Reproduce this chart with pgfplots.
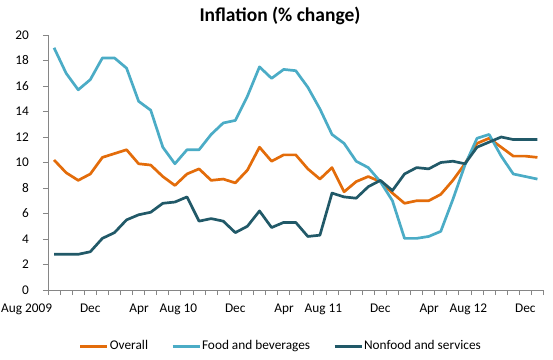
\documentclass[border=0pt]{standalone}
\usepackage{fontspec}
\setmainfont{Carlito}
\usepackage{pgfplots}
\pgfplotsset{compat=1.18}
\definecolor{cOverall}{HTML}{E36C0A}
\definecolor{cFood}{HTML}{4BACC6}
\definecolor{cNon}{HTML}{215968}
\definecolor{axgray}{HTML}{868686}
\begin{document}
\fontsize{13.3}{16}\selectfont
\begin{tikzpicture}
\useasboundingbox (0,0) rectangle (553pt,359pt);
\node[anchor=base, font=\bfseries\fontsize{19.5}{22}\selectfont] at (280pt,337pt) {Inflation (\% change)};
\begin{axis}[
  at={(48pt,69pt)}, anchor=south west,
  scale only axis, width=495.5pt, height=255pt,
  xmin=-0.5, xmax=40.5, ymin=0, ymax=20,
  axis x line=bottom, axis y line=left,
  axis line style={draw=axgray, line width=0.9pt, -},
  ytick={0,2,...,20},
  xtick={-0.5,0.5,...,40.5},
  xticklabels={},
  extra x ticks={-0.145,3.855,7.855,11.855,15.855,19.855,23.855,27.855,31.855,35.855,39.855},
  extra x tick labels={Aug 2009,Dec,Apr,Aug 10,Dec,Apr,Aug 11,Dec,Apr,Aug 12,Dec},
  extra x tick style={major tick length=0pt, tick style={draw=none},
    xticklabel style={anchor=north east, inner sep=0pt, yshift=-14pt}},
  xtick align=outside, ytick align=outside,
  major tick length=5pt,
  every tick/.style={draw=axgray, line width=0.9pt},
  yticklabel style={anchor=east, inner sep=0pt, xshift=-14pt},
  /pgf/number format/assume math mode=true,
  ticklabel style={font=\fontsize{13.3}{16}\selectfont},
  legend columns=3,
  legend style={at={(axis description cs:0.469,-0.2196)}, anchor=center, draw=none, fill=none,
    font=\fontsize{13.3}{16}\selectfont, nodes={inner xsep=1pt, inner ysep=1pt},
    /tikz/every even column/.append style={column sep=22pt}},
  legend image code/.code={\draw[#1, line width=3pt] (0pt,0pt) -- (27pt,0pt);},
  every axis plot/.append style={line width=2.7pt, line join=round, no markers},
]
\addplot[cOverall] coordinates {
(0,10.2)(1,9.2)(2,8.6)(3,9.1)(4,10.4)(5,10.7)(6,11.0)(7,9.9)(8,9.8)(9,8.9)
(10,8.2)(11,9.1)(12,9.5)(13,8.6)(14,8.7)(15,8.4)(16,9.4)(17,11.2)(18,10.1)(19,10.6)
(20,10.6)(21,9.5)(22,8.7)(23,9.6)(24,7.7)(25,8.5)(26,8.9)(27,8.5)(28,7.6)(29,6.8)
(30,7.0)(31,7.0)(32,7.5)(33,8.6)(34,9.9)(35,11.5)(36,11.9)(37,11.2)(38,10.5)(39,10.5)(40,10.4)};
\addlegendentry{Overall}
\addplot[cFood] coordinates {
(0,19.0)(1,17.0)(2,15.7)(3,16.5)(4,18.2)(5,18.2)(6,17.4)(7,14.8)(8,14.1)(9,11.2)
(10,9.9)(11,11.0)(12,11.0)(13,12.2)(14,13.1)(15,13.3)(16,15.2)(17,17.5)(18,16.6)(19,17.3)
(20,17.2)(21,15.9)(22,14.2)(23,12.2)(24,11.5)(25,10.1)(26,9.6)(27,8.5)(28,7.0)(29,4.05)
(30,4.05)(31,4.2)(32,4.6)(33,7.1)(34,9.8)(35,11.9)(36,12.2)(37,10.5)(38,9.1)(39,8.9)(40,8.7)};
\addlegendentry{Food and beverages}
\addplot[cNon] coordinates {
(0,2.8)(1,2.8)(2,2.8)(3,3.0)(4,4.05)(5,4.5)(6,5.5)(7,5.9)(8,6.1)(9,6.8)
(10,6.9)(11,7.3)(12,5.4)(13,5.6)(14,5.4)(15,4.5)(16,5.0)(17,6.2)(18,4.9)(19,5.3)
(20,5.3)(21,4.2)(22,4.3)(23,7.6)(24,7.3)(25,7.2)(26,8.1)(27,8.6)(28,7.8)(29,9.1)
(30,9.6)(31,9.5)(32,10.0)(33,10.1)(34,9.9)(35,11.2)(36,11.6)(37,12.0)(38,11.8)(39,11.8)(40,11.8)};
\addlegendentry{Nonfood and services}
\end{axis}
\end{tikzpicture}
\end{document}
